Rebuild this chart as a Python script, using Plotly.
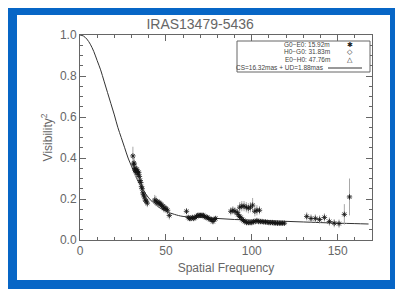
import plotly.graph_objects as go

# ---- data ----
freq = [30.8, 31.2, 31.5, 31.8, 32.2, 32.5, 32.8, 33.2, 33.5, 33.8, 34.2, 34.6, 35.0, 35.4, 35.8,
        36.2, 36.6, 37.0, 37.5, 38.0, 38.5, 39.2,
        43.5, 44.2, 44.8, 45.5, 46.2, 46.8, 47.5, 48.2, 48.8, 49.5, 50.2, 51.0, 52.0,
        62.0, 63.0, 63.8, 64.6, 65.4, 66.2, 67.0, 67.8, 68.6, 69.4, 70.2, 71.0, 71.8, 72.6, 73.4,
        74.2, 75.0, 75.8, 76.6, 77.4, 78.2, 79.0,
        87.8, 89.0, 90.2, 91.5, 93.0, 94.2, 95.5, 96.8, 98.0, 99.2, 100.5, 101.8, 103.0, 104.5,
        92.0, 92.8, 93.6, 94.4, 95.2, 96.0, 97.0, 98.0, 99.0, 100.0, 101.0, 102.0, 103.0, 104.0,
        105.0, 106.0, 107.0, 108.0, 109.0, 110.0, 111.0, 112.0, 113.0, 114.0, 115.0, 116.0, 117.0,
        118.0, 119.0,
        132.0, 134.5, 137.0, 139.5, 142.3, 145.2, 148.0, 150.8, 153.9, 156.9]
vis2 = [0.41, 0.37, 0.375, 0.35, 0.34, 0.335, 0.345, 0.33, 0.335, 0.32, 0.33, 0.31, 0.29, 0.28, 0.26,
        0.25, 0.23, 0.22, 0.21, 0.195, 0.19, 0.18,
        0.195, 0.19, 0.185, 0.18, 0.18, 0.175, 0.17, 0.165, 0.155, 0.155, 0.15, 0.145, 0.12,
        0.14, 0.11, 0.105, 0.105, 0.11, 0.105, 0.11, 0.115, 0.12, 0.12, 0.12, 0.12, 0.12, 0.115, 0.11,
        0.11, 0.105, 0.10, 0.10, 0.09, 0.10, 0.105,
        0.14, 0.145, 0.14, 0.135, 0.16, 0.165, 0.165, 0.16, 0.155, 0.16, 0.17, 0.14, 0.145, 0.145,
        0.125, 0.115, 0.11, 0.10, 0.095, 0.09, 0.085, 0.085, 0.085, 0.085, 0.09, 0.09, 0.095, 0.09,
        0.09, 0.09, 0.088, 0.088, 0.087, 0.085, 0.085, 0.085, 0.083, 0.083, 0.082, 0.082, 0.082,
        0.082, 0.082,
        0.115, 0.105, 0.105, 0.10, 0.11, 0.09, 0.082, 0.08, 0.125, 0.21]
err = [0.045, 0.03, 0.03, 0.03, 0.03, 0.025, 0.025, 0.025, 0.025, 0.025, 0.025, 0.025, 0.02, 0.02, 0.02,
       0.02, 0.02, 0.02, 0.02, 0.02, 0.02, 0.02,
       0.025, 0.025, 0.02, 0.02, 0.02, 0.02, 0.02, 0.02, 0.02, 0.02, 0.02, 0.02, 0.02,
       0.015, 0.012, 0.012, 0.012, 0.012, 0.012, 0.012, 0.012, 0.012, 0.012, 0.012, 0.012, 0.012, 0.012, 0.012,
       0.012, 0.012, 0.012, 0.012, 0.012, 0.012, 0.012,
       0.02, 0.02, 0.02, 0.02, 0.025, 0.025, 0.025, 0.025, 0.025, 0.025, 0.035, 0.025, 0.025, 0.02,
       0.015, 0.012, 0.012, 0.012, 0.01, 0.01, 0.01, 0.01, 0.01, 0.01, 0.01, 0.01, 0.01, 0.01,
       0.01, 0.01, 0.01, 0.01, 0.01, 0.01, 0.01, 0.01, 0.01, 0.01, 0.01, 0.01, 0.01,
       0.01, 0.01,
       0.02, 0.02, 0.02, 0.02, 0.02, 0.02, 0.02, 0.02, 0.05, 0.09]

model_freq = [0, 2, 4, 6, 8, 10, 12, 14, 16, 18, 20, 22, 24, 26, 28, 30, 33, 36, 40, 45, 50, 55,
              60, 70, 80, 90, 100, 110, 120, 130, 140, 150, 160, 168]
model_vis2 = [1.0, 0.995, 0.98, 0.955, 0.92, 0.875, 0.83, 0.775, 0.72, 0.665, 0.61, 0.55, 0.50,
              0.45, 0.40, 0.36, 0.30, 0.255, 0.205, 0.165, 0.14, 0.125, 0.115, 0.11, 0.105, 0.10,
              0.097, 0.094, 0.091, 0.088, 0.085, 0.082, 0.08, 0.078]

title_text = "IRAS13479-5436"
x_title = "Spatial Frequency"
y_title = "Visibility<sup>2</sup>"
legend_rows = ["G0\u2212E0: 15.92m", "H0\u2212G0: 31.83m", "E0\u2212H0: 47.76m", "CS=16.32mas + UD=1.88mas"]
legend_syms = ["\u2731", "\u25c7", "\u25b3"]
x_ticks = [0, 50, 100, 150]
y_ticks = [0.0, 0.2, 0.4, 0.6, 0.8, 1.0]

GRAY = "#666666"
FONT = "Liberation Sans, Arial, sans-serif"

# figure coordinates (page is offset by the 8px body margin)
W, H = 395, 281
L, R, T, B = 72, 31, 27, 49
pw, ph = W - L - R, H - T - B


def px(x):
    return (x - L) / pw


def py(y):
    return (H - B - y) / ph


fig = go.Figure()
fig.add_trace(go.Scatter(x=model_freq, y=model_vis2, mode="lines",
                         line=dict(color="#333333", width=1, shape="spline"),
                         showlegend=False, hoverinfo="skip"))
fig.add_trace(go.Scatter(x=freq, y=vis2, mode="markers",
                         marker=dict(symbol="asterisk-open", size=4.5, line=dict(color="#111111", width=0.8),
                                     color="#111111"),
                         error_y=dict(type="data", array=err, visible=True, color="#a8a8a8", thickness=1, width=0),
                         showlegend=False))

shapes = [
    dict(type="rect", xref="paper", yref="paper", x0=px(9), x1=px(382), y0=py(272), y1=py(7),
         fillcolor="white", line=dict(width=0), layer="below"),
    # legend box
    dict(type="rect", xref="paper", yref="paper", x0=px(229), x1=px(362), y0=py(64), y1=py(33),
         fillcolor="white", line=dict(color=GRAY, width=1)),
    dict(type="line", xref="paper", yref="paper", x0=px(320), x1=px(354), y0=py(60), y1=py(60),
         line=dict(color="#333333", width=1)),
]

annotations = []
row_y = [36.5, 44, 51.5, 59.5]
for i, t in enumerate(legend_rows):
    annotations.append(dict(text=t, xref="paper", yref="paper", x=px(324 if i < 3 else 318), y=py(row_y[i]),
                            xanchor="right", yanchor="middle", showarrow=False,
                            font=dict(size=6.5, color="#444444", family=FONT)))
for i, s in enumerate(legend_syms):
    annotations.append(dict(text=s, xref="paper", yref="paper", x=px(342), y=py(row_y[i]),
                            xanchor="center", yanchor="middle", showarrow=False,
                            font=dict(size=7, color="#222222", family="DejaVu Sans")))

axis_common = dict(showline=True, linecolor=GRAY, linewidth=1, mirror="allticks", ticks="inside",
                   ticklen=6, tickcolor=GRAY, showgrid=False, zeroline=False,
                   tickfont=dict(size=12, color=GRAY, family=FONT))

fig.update_layout(
    width=W, height=H,
    margin=dict(l=L, r=R, t=T, b=B),
    paper_bgcolor="#0766c6", plot_bgcolor="rgba(0,0,0,0)",
    title=dict(text=title_text, x=px(214), xanchor="center", y=1 - 16 / H, yanchor="middle",
               font=dict(size=14, color=GRAY, family=FONT)),
    xaxis=dict(range=[0, 170], tickvals=x_ticks, ticktext=[str(v) for v in x_ticks],
               minor=dict(ticks="inside", dtick=10, ticklen=3, tickcolor=GRAY),
               title=dict(text=x_title, font=dict(size=12, color=GRAY, family=FONT), standoff=6),
               **axis_common),
    yaxis=dict(range=[0, 1.0], tickvals=y_ticks, ticktext=[f"{v:.1f}" for v in y_ticks],
               minor=dict(ticks="inside", dtick=0.05, ticklen=3, tickcolor=GRAY),
               title=dict(text=y_title, font=dict(size=12, color=GRAY, family=FONT), standoff=4),
               **axis_common),
    shapes=shapes, annotations=annotations,
)

fig.write_html("out.html")
